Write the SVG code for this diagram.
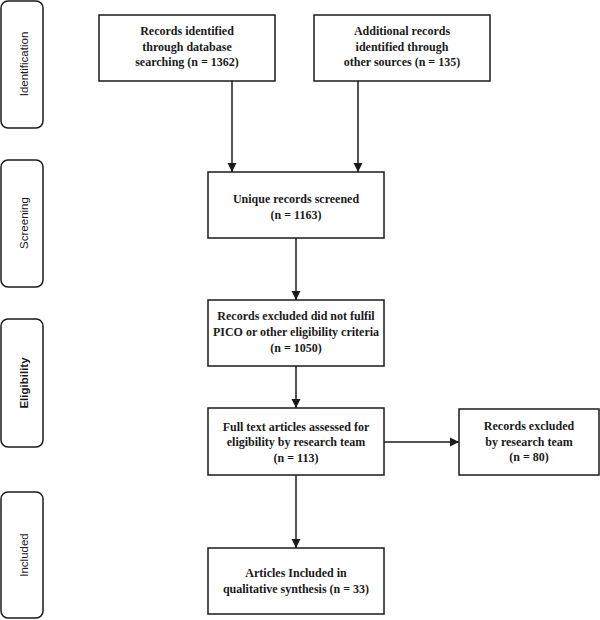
<svg xmlns="http://www.w3.org/2000/svg" width="600" height="620" viewBox="0 0 600 620">
<style>
.box{fill:#fff;stroke:#1a1a1a;stroke-width:1.5}
.side{fill:#fff;stroke:#1a1a1a;stroke-width:1.5}
.t{font-family:"Liberation Serif","DejaVu Serif",serif;font-weight:bold;font-size:12px;fill:#1a1a1a;text-anchor:middle}
.st{font-family:"Liberation Sans","DejaVu Sans",sans-serif;font-size:11.5px;fill:#1a1a1a;text-anchor:middle}
.c{stroke:#1a1a1a;stroke-width:1.5;fill:none;marker-end:url(#ah)}
</style>
<defs>
<marker id="ah" viewBox="0 0 10 10" refX="10" refY="5" markerWidth="9" markerHeight="10" markerUnits="userSpaceOnUse" orient="auto">
<path d="M0,0 L10,5 L0,10 z" fill="#1a1a1a"/>
</marker>
</defs>
<rect width="600" height="620" fill="#fff"/>
<g id="phase-identification"><rect class="side" x="1" y="1" width="42" height="127" rx="7"/><text class="st" transform="translate(28,64) rotate(-90)">Identification</text></g>
<g id="phase-screening"><rect class="side" x="1" y="160" width="42" height="127" rx="7"/><text class="st" transform="translate(28,223) rotate(-90)">Screening</text></g>
<g id="phase-eligibility"><rect class="side" x="1" y="319" width="42" height="128" rx="7"/><text class="st" style="font-weight:bold" transform="translate(28,383) rotate(-90)">Eligibility</text></g>
<g id="phase-included"><rect class="side" x="1" y="492" width="42" height="126" rx="7"/><text class="st" transform="translate(28,555) rotate(-90)">Included</text></g>
<g id="connectors">
<line class="c" x1="232" y1="81" x2="232" y2="172"/>
<line class="c" x1="358" y1="81" x2="358" y2="172"/>
<line class="c" x1="296" y1="238" x2="296" y2="300"/>
<line class="c" x1="296" y1="366" x2="296" y2="408"/>
<line class="c" x1="384" y1="442" x2="459" y2="442"/>
<line class="c" x1="296" y1="475" x2="296" y2="548"/>
</g>
<g id="n-database"><rect class="box" x="99" y="15" width="176" height="66"/><text class="t" x="187" y="35">Records identified</text><text class="t" x="187" y="51">through database</text><text class="t" x="187" y="66">searching (n = 1362)</text></g>
<g id="n-other"><rect class="box" x="314" y="15" width="176" height="66"/><text class="t" x="402" y="35">Additional records</text><text class="t" x="402" y="51">identified through</text><text class="t" x="402" y="66">other sources (n = 135)</text></g>
<g id="n-screened"><rect class="box" x="208" y="172" width="176" height="66"/><text class="t" x="296" y="203">Unique records screened</text><text class="t" x="296" y="219">(n = 1163)</text></g>
<g id="n-excluded-pico"><rect class="box" x="208" y="300" width="176" height="66"/><text class="t" x="296" y="320">Records excluded did not fulfil</text><text class="t" x="296" y="336">PICO or other eligibility criteria</text><text class="t" x="296" y="352">(n = 1050)</text></g>
<g id="n-fulltext"><rect class="box" x="208" y="408" width="176" height="67"/><text class="t" x="296" y="431">Full text articles assessed for</text><text class="t" x="296" y="446">eligibility by research team</text><text class="t" x="296" y="462">(n = 113)</text></g>
<g id="n-excluded-team"><rect class="box" x="459" y="409" width="140" height="66"/><text class="t" x="529" y="430">Records excluded</text><text class="t" x="529" y="446">by research team</text><text class="t" x="529" y="461">(n = 80)</text></g>
<g id="n-included"><rect class="box" x="208" y="548" width="176" height="66"/><text class="t" x="296" y="577">Articles Included in</text><text class="t" x="296" y="593">qualitative synthesis (n = 33)</text></g>
</svg>
